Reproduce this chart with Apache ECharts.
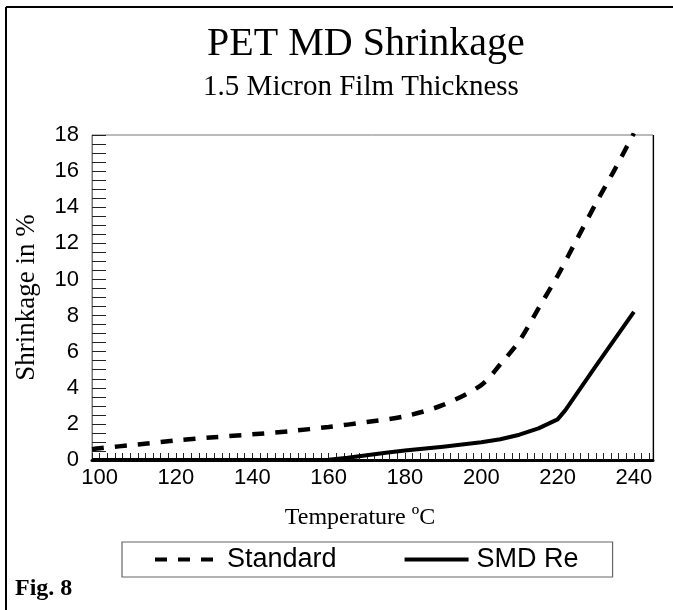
<!DOCTYPE html>
<html><head><meta charset="utf-8">
<script src="https://cdn.jsdelivr.net/npm/echarts@6/dist/echarts.min.js"></script>
<style>html,body{margin:0;padding:0;background:#fff}#c{width:673px;height:610px}</style>
</head><body><div id="c"></div>
<script>
const stdTemps   = [98, 100, 110, 120, 130, 140, 150, 160, 170, 180, 190, 200, 205, 210, 215, 220, 225, 230, 235, 240];
const stdValues  = [0.6, 0.65, 0.86, 1.08, 1.26, 1.42, 1.6, 1.83, 2.1, 2.42, 3.05, 4.15, 5.3, 6.6, 8.4, 10.2, 12.2, 14.2, 16.1, 18.1];
const smdTemps   = [98, 120, 140, 160, 165, 170, 175, 180, 190, 200, 205, 210, 215, 220, 222, 230, 240];
const smdValues  = [0, 0, 0, 0.02, 0.12, 0.26, 0.4, 0.53, 0.74, 0.98, 1.15, 1.4, 1.75, 2.25, 2.75, 5.2, 8.2];
const xTickLabels = [100, 120, 140, 160, 180, 200, 220, 240];
const yTickLabels = [0, 2, 4, 6, 8, 10, 12, 14, 16, 18];

const chart = echarts.init(document.getElementById('c'), null, {renderer: 'canvas'});
const serif = '"Liberation Serif","DejaVu Serif",serif';
const sans = '"Liberation Sans",Arial,sans-serif';
chart.setOption({
  animation: false,
  backgroundColor: '#fff',
  grid: {left: 92, right: 20, top: 135, bottom: 150, show: true, borderColor: '#777', borderWidth: 1},
  legend: {
    left: 122, top: 542,
    padding: [4, 34, 4, 31],
    itemGap: 66, itemWidth: 64, itemHeight: 10,
    borderColor: '#666', borderWidth: 1.2,
    itemStyle: {opacity: 0},
    lineStyle: {width: 4},
    textStyle: {fontFamily: sans, fontSize: 27, color: '#000', padding: [0, 0, 0, 3]},
    data: ['Standard', 'SMD Re']
  },
  xAxis: {
    type: 'value', min: 98, max: 245, interval: 2,
    axisLine: {show: true, lineStyle: {color: '#000', width: 3}},
    axisTick: {show: true, inside: true, length: 7, lineStyle: {color: '#222', width: 1}},
    splitLine: {show: false},
    axisLabel: {
      showMinLabel: true, showMaxLabel: false,
      margin: 7, fontFamily: sans, fontSize: 22, color: '#000',
      formatter: v => xTickLabels.indexOf(v) >= 0 ? String(v) : ''
    }
  },
  yAxis: {
    type: 'value', min: 0, max: 18, interval: 0.5,
    axisLine: {show: true, lineStyle: {color: '#777', width: 1}},
    axisTick: {show: true, inside: true, length: 14, lineStyle: {color: '#222', width: 1}},
    splitLine: {show: false},
    axisLabel: {
      margin: 13, fontFamily: sans, fontSize: 22, color: '#000',
      formatter: v => yTickLabels.indexOf(v) >= 0 ? String(v) : ''
    },
    name: 'Shrinkage in %', nameLocation: 'middle', nameGap: 52,
    nameTextStyle: {fontFamily: serif, fontSize: 27, color: '#000'}
  },
  series: [
    {name: 'Standard', type: 'line', symbol: 'none', smooth: 0.3,
     data: stdTemps.map((t, i) => [t, stdValues[i]]),
     lineStyle: {color: '#000', width: 4.5, type: [12, 11]}, itemStyle: {color: '#000'}},
    {name: 'SMD Re', type: 'line', symbol: 'none', smooth: false,
     data: smdTemps.map((t, i) => [t, smdValues[i]]),
     lineStyle: {color: '#000', width: 4, join: 'round'}, itemStyle: {color: '#000'}}
  ],
  graphic: [
    {type: 'line', shape: {x1: 6, y1: 7, x2: 673, y2: 7}, style: {stroke: '#000', lineWidth: 2}},
    {type: 'line', shape: {x1: 6, y1: 7, x2: 6, y2: 610}, style: {stroke: '#000', lineWidth: 2}},
    {type: 'line', shape: {x1: 653.5, y1: 135, x2: 653.5, y2: 460}, style: {stroke: '#000', lineWidth: 1.2}},
    {type: 'text', x: 366, y: 44, style: {text: 'PET MD Shrinkage', font: '40px ' + serif, fill: '#000', textAlign: 'center', textVerticalAlign: 'middle'}},
    {type: 'text', x: 361, y: 87, style: {text: '1.5 Micron Film Thickness', font: '29px ' + serif, fill: '#000', textAlign: 'center', textVerticalAlign: 'middle'}},
    {type: 'text', x: 360, y: 518, style: {text: 'Temperature ºC', font: '24px ' + serif, fill: '#000', textAlign: 'center', textVerticalAlign: 'middle'}},
    {type: 'text', x: 15, y: 589, style: {text: 'Fig. 8', font: 'bold 24px ' + serif, fill: '#000', textAlign: 'left', textVerticalAlign: 'middle'}}
  ]
});
</script></body></html>
